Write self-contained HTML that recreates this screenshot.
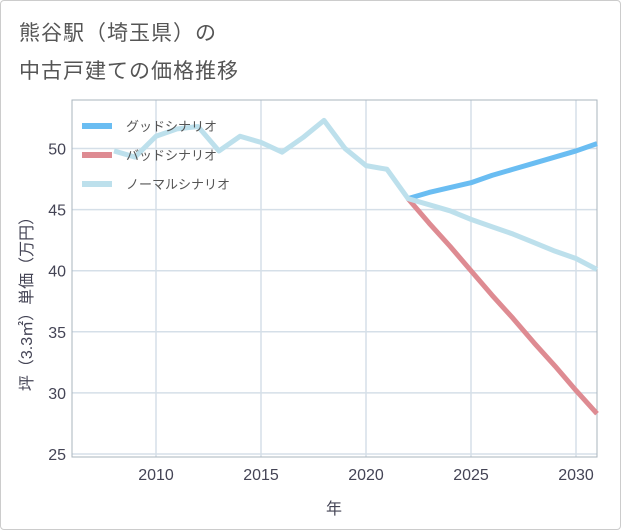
<!DOCTYPE html>
<html><head><meta charset="utf-8"><style>
body{margin:0;background:#fff;}
#wrap{position:relative;width:619px;height:528px;border:1px solid #ccc;border-radius:4px;background:#fff;font-family:"Liberation Sans","Noto Sans CJK JP",sans-serif;overflow:hidden}
.t{position:absolute;left:18px;color:#555;font-size:21px;letter-spacing:1px}
</style></head><body>
<div id="wrap">
<div class="t" style="top:16px">熊谷駅（埼玉県）の</div>
<div class="t" style="top:54px">中古戸建ての価格推移</div>
<svg id="c" width="621" height="530" style="position:absolute;left:-1px;top:-1px"></svg>
</div>
<script>
const years=[2008,2009,2010,2011,2012,2013,2014,2015,2016,2017,2018,2019,2020,2021,2022,2023,2024,2025,2026,2027,2028,2029,2030,2031];
const normal=[49.8,49.3,51.0,51.6,51.8,49.8,51.0,50.5,49.7,50.9,52.3,50.0,48.6,48.3,45.9,45.4,44.9,44.2,43.6,43.0,42.3,41.6,41.0,40.1];
const goodYears=[2022,2023,2024,2025,2026,2027,2028,2029,2030,2031];
const good=[45.9,46.4,46.8,47.2,47.8,48.3,48.8,49.3,49.8,50.4];
const bad=[45.9,43.9,42.0,40.0,38.0,36.1,34.1,32.2,30.2,28.3];
const xTicks=[2010,2015,2020,2025,2030];
const yTicks=[25,30,35,40,45,50];
const svg=document.getElementById('c');const NS='http://www.w3.org/2000/svg';
const L=72,R=597,T=100,B=457;
const x=v=>L+(v-2006)*(R-L)/25;
const y=v=>454-(v-25)*12.22;
function mk(t,a,p){const e=document.createElementNS(NS,t);for(const k in a)e.setAttribute(k,a[k]);(p||svg).appendChild(e);return e;}
for(const v of xTicks){const g=mk('line',{x1:x(v),x2:x(v),y1:T,y2:B,stroke:'#d5dfe8','stroke-width':1.5});


const tx=mk('text',{x:x(v),y:480,'text-anchor':'middle','font-size':16,fill:'#445'});tx.textContent=v;

}
for(const v of yTicks){const g=mk('line',{x1:L,x2:R,y1:y(v),y2:y(v),stroke:'#d5dfe8','stroke-width':1.5});


const tx=mk('text',{x:66,y:y(v)+6,'text-anchor':'end','font-size':16,fill:'#445'});tx.textContent=v;

}
const fr=mk('rect',{x:L,y:T,width:R-L,height:B-T,fill:'none',stroke:'#aab4be','stroke-width':1});


function line(xs,vs,col,name){const p=mk('polyline',{points:xs.map((v,i)=>x(v)+','+y(vs[i])).join(' '),fill:'none',stroke:col,'stroke-width':5,'stroke-linejoin':'round'});

}
line(goodYears,bad,'#de8b92','bad-scenario-line');
line(goodYears,good,'#6abdf2','good-scenario-line');
line(years,normal,'#bde0ec','normal-scenario-line');
const leg=[['グッドシナリオ','#6abdf2'],['バッドシナリオ','#de8b92'],['ノーマルシナリオ','#bde0ec']];
leg.forEach((d,i)=>{const yy=126+i*29;
const l=mk('line',{x1:82,x2:112,y1:yy,y2:yy,stroke:d[1],'stroke-width':6});


const t=mk('text',{x:126,y:yy+5,'font-size':13,fill:'#555'});t.textContent=d[0];

});
const xt=mk('text',{x:334,y:514,'text-anchor':'middle','font-size':16,fill:'#445'});xt.textContent='年';


const yt=mk('text',{x:0,y:0,'text-anchor':'middle','font-size':16,fill:'#445',transform:'translate(32,300) rotate(-90)'});yt.textContent='坪（3.3㎡）単価（万円）';


</script>
</body></html>
